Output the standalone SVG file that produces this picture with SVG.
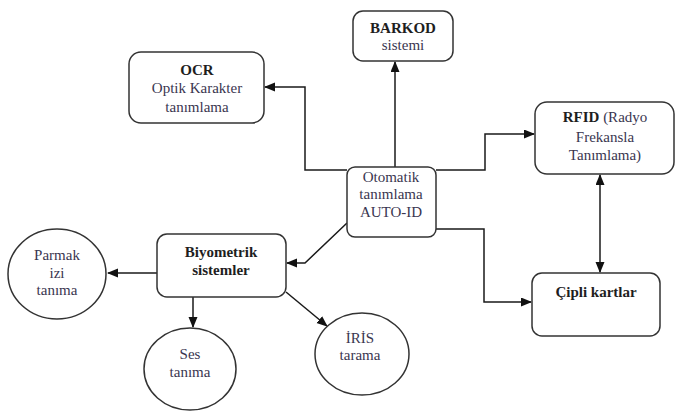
<svg xmlns="http://www.w3.org/2000/svg" width="676" height="411" viewBox="0 0 676 411">
<style>
.box{fill:#fff;stroke:#333;stroke-width:1.5}
.t{font-family:'Liberation Serif','DejaVu Serif',serif;font-size:15px;fill:#3a3650;text-anchor:middle}
.b{font-weight:bold;fill:#1e1e1e}
.c{fill:none;stroke:#1a1a1a;stroke-width:1.5}
</style>
<defs>
<marker id="ah" markerUnits="userSpaceOnUse" markerWidth="11" markerHeight="10" refX="10" refY="4.5" orient="auto-start-reverse">
<path d="M0,0 L11,4.5 L0,9 z" fill="#111"/>
</marker>
</defs>
<rect width="676" height="411" fill="#fff"/>
<g id="connectors">
<polyline class="c" points="347,170 305,170 305,87 265,87" marker-end="url(#ah)"/>
<polyline class="c" points="395,167 395,62" marker-end="url(#ah)"/>
<polyline class="c" points="436,170 485,170 485,134 534,134" marker-end="url(#ah)"/>
<polyline class="c" points="436,229 484,229 484,302 531,302" marker-end="url(#ah)"/>
<polyline class="c" points="600,175 600,272" marker-start="url(#ah)" marker-end="url(#ah)"/>
<polyline class="c" points="347,223 305,263 287,263" marker-end="url(#ah)"/>
<polyline class="c" points="157,273 108,273" marker-end="url(#ah)"/>
<polyline class="c" points="193,297 193,327" marker-end="url(#ah)"/>
<polyline class="c" points="286,292 327,326" marker-end="url(#ah)"/>
</g>
<g id="barkod">
<rect class="box" x="353" y="11" width="100" height="50" rx="10"/>
<text class="t b" x="403" y="33">BARKOD</text>
<text class="t" x="403" y="50">sistemi</text>
</g>
<g id="ocr">
<rect class="box" x="129" y="52" width="135" height="71" rx="12"/>
<text class="t b" x="197" y="75">OCR</text>
<text class="t" x="197" y="93">Optik Karakter</text>
<text class="t" x="197" y="112">tanımlama</text>
</g>
<g id="autoid">
<rect class="box" x="347" y="167" width="89" height="70" rx="8"/>
<text class="t" x="391" y="182">Otomatik</text>
<text class="t" x="391" y="199">tanımlama</text>
<text class="t" x="391" y="217">AUTO-ID</text>
</g>
<g id="rfid">
<rect class="box" x="535" y="102" width="139" height="72" rx="12"/>
<text class="t" x="605" y="122"><tspan class="b">RFID</tspan> (Radyo</text>
<text class="t" x="605" y="142">Frekansla</text>
<text class="t" x="605" y="160">Tanımlama)</text>
</g>
<g id="cipli">
<rect class="box" x="532" y="273" width="128" height="63" rx="10"/>
<text class="t b" x="596" y="297">Çipli kartlar</text>
</g>
<g id="biyometrik">
<rect class="box" x="157" y="234" width="129" height="63" rx="10"/>
<text class="t b" x="221" y="257">Biyometrik</text>
<text class="t b" x="221" y="275">sistemler</text>
</g>
<g id="parmak">
<ellipse class="box" cx="57" cy="274" rx="49" ry="45"/>
<text class="t" x="57" y="260">Parmak</text>
<text class="t" x="57" y="278">izi</text>
<text class="t" x="57" y="295">tanıma</text>
</g>
<g id="ses">
<ellipse class="box" cx="190" cy="369" rx="46" ry="41"/>
<text class="t" x="190" y="359">Ses</text>
<text class="t" x="190" y="377">tanıma</text>
</g>
<g id="iris">
<ellipse class="box" cx="362" cy="354" rx="47" ry="41"/>
<text class="t" x="360" y="343">İRİS</text>
<text class="t" x="360" y="360">tarama</text>
</g>
</svg>
